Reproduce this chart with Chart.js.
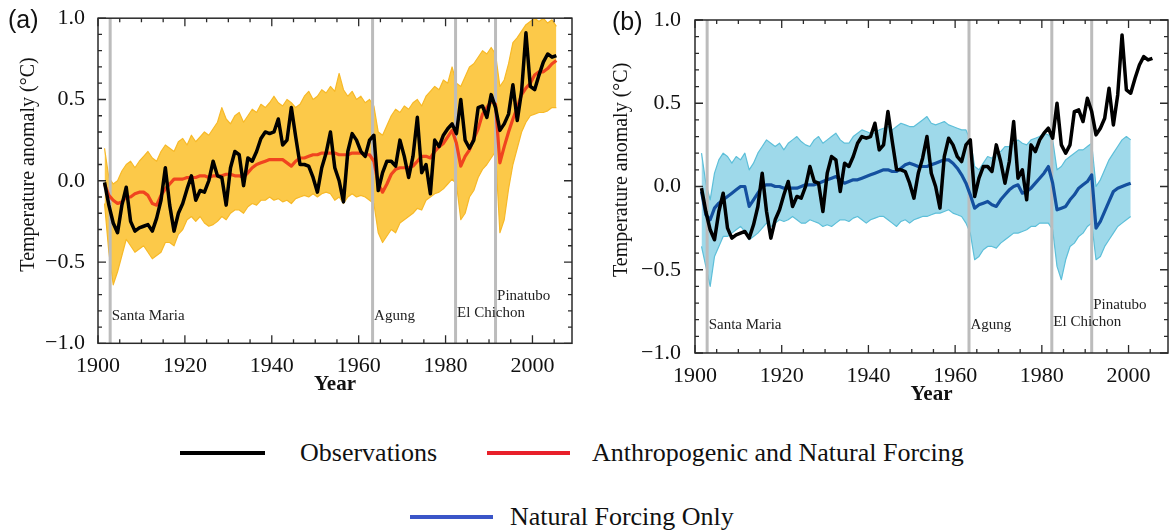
<!DOCTYPE html>
<html>
<head>
<meta charset="utf-8">
<script src="https://cdn.jsdelivr.net/npm/chart.js@4.4.1/dist/chart.umd.min.js"></script>
<style>
    html, body { margin: 0; padding: 0; background: #fff; }
    body { width: 1173px; height: 531px; position: relative; overflow: hidden; font-family: 'Liberation Serif', 'Times New Roman', serif; color: #111; }
    canvas { position: absolute; top: 0; }
    #chartA { left: 0; }
    #chartB { left: 597px; }
    .tag { position: absolute; font-family: 'Liberation Sans', Arial, sans-serif; font-size: 25px; line-height: 1; }
    #tagA { left: 8px; top: 7px; }
    #tagB { left: 612px; top: 9px; }
    .leg { position: absolute; font-size: 26px; line-height: 1; white-space: nowrap; }
    .sw { position: absolute; height: 4px; }
    #swObs { left: 180px; top: 451px; width: 85px; background: #000; }
    #lbObs { left: 300px; top: 440px; }
    #swAll { left: 487px; top: 451px; width: 83px; background: #e8202a; }
    #lbAll { left: 592px; top: 440px; }
    #swNat { left: 410px; top: 515px; width: 83px; background: #3a55c8; }
    #lbNat { left: 510px; top: 504px; }
</style>
</head>
<body>
<canvas id="chartA" width="600" height="400"></canvas>
<canvas id="chartB" width="576" height="410"></canvas>
<div class="tag" id="tagA">(a)</div>
<div class="tag" id="tagB">(b)</div>
<div class="sw" id="swObs"></div><div class="leg" id="lbObs">Observations</div>
<div class="sw" id="swAll"></div><div class="leg" id="lbAll">Anthropogenic and Natural Forcing</div>
<div class="sw" id="swNat"></div><div class="leg" id="lbNat">Natural Forcing Only</div>

<script>
// annual means, plotted at mid-year
const MID = 0.5;
const years = Array.from({length: 105}, (_, i) => 1901 + i);   // 1901-2005
const yearsNat = years.slice(0, 100);                           // natural runs stop in 2000

const xTicks = [1900, 1920, 1940, 1960, 1980, 2000];
const yTicks = [-1, -0.5, 0, 0.5, 1];

// observations (black, both panels)
const observed = [
    -0.01, -0.15, -0.26, -0.32, -0.15, -0.04, -0.25, -0.31, -0.29, -0.28,
    -0.27, -0.31, -0.23, -0.12, 0.08, -0.15, -0.31, -0.20, -0.14, -0.05,
    0.03, -0.12, -0.06, -0.07, 0.00, 0.12, 0.03, 0.02, -0.15, 0.08,
    0.18, 0.16, -0.03, 0.14, 0.12, 0.18, 0.26, 0.30, 0.29, 0.30,
    0.38, 0.22, 0.25, 0.45, 0.27, 0.10, 0.10, 0.09, 0.02, -0.07,
    0.08, 0.17, 0.30, 0.08, 0.00, -0.13, 0.18, 0.29, 0.25, 0.18,
    0.15, 0.25, 0.28, -0.06, 0.05, 0.12, 0.12, 0.09, 0.25, 0.15,
    0.02, 0.15, 0.39, 0.05, 0.10, -0.08, 0.25, 0.21, 0.28, 0.32,
    0.35, 0.29, 0.50, 0.25, 0.20, 0.25, 0.45, 0.46, 0.39, 0.53,
    0.45, 0.31, 0.35, 0.41, 0.59, 0.37, 0.55, 0.91, 0.58, 0.56,
    0.65, 0.73, 0.78, 0.76, 0.77
];

// (a) anthropogenic + natural: ensemble mean and spread of the runs
const allMean = [
    -0.02, -0.09, -0.12, -0.14, -0.13, -0.10, -0.10, -0.08, -0.07, -0.07,
    -0.09, -0.14, -0.15, -0.09, -0.05, -0.02, 0.01, 0.01, 0.01, 0.02,
    0.02, 0.02, 0.03, 0.03, 0.02, 0.03, 0.03, 0.03, 0.04, 0.04,
    0.03, 0.03, 0.02, 0.05, 0.08, 0.10, 0.11, 0.12, 0.13, 0.13,
    0.13, 0.13, 0.11, 0.09, 0.12, 0.14, 0.14, 0.15, 0.16, 0.16,
    0.17, 0.17, 0.17, 0.17, 0.16, 0.16, 0.16, 0.17, 0.17, 0.17,
    0.16, 0.16, 0.12, -0.02, -0.07, -0.02, 0.04, 0.07, 0.08, 0.08,
    0.08, 0.09, 0.12, 0.15, 0.15, 0.14, 0.18, 0.21, 0.23, 0.27,
    0.31, 0.23, 0.09, 0.15, 0.19, 0.26, 0.32, 0.41, 0.45, 0.49,
    0.47, 0.11, 0.21, 0.30, 0.38, 0.45, 0.53, 0.57, 0.60, 0.65,
    0.67, 0.67, 0.69, 0.72, 0.74
];
const allHigh = [
    0.20, 0.02, -0.02, 0.00, 0.06, 0.10, 0.12, 0.08, 0.12, 0.15,
    0.18, 0.14, 0.12, 0.18, 0.22, 0.20, 0.18, 0.24, 0.26, 0.22,
    0.28, 0.24, 0.27, 0.30, 0.28, 0.32, 0.36, 0.45, 0.38, 0.35,
    0.40, 0.42, 0.36, 0.40, 0.44, 0.42, 0.47, 0.45, 0.48, 0.52,
    0.48, 0.46, 0.50, 0.48, 0.45, 0.47, 0.52, 0.55, 0.50, 0.52,
    0.56, 0.54, 0.58, 0.55, 0.66, 0.56, 0.52, 0.55, 0.50, 0.52,
    0.48, 0.50, 0.46, 0.30, 0.28, 0.34, 0.40, 0.44, 0.42, 0.46,
    0.44, 0.48, 0.50, 0.46, 0.52, 0.55, 0.58, 0.56, 0.62, 0.60,
    0.70, 0.60, 0.58, 0.64, 0.70, 0.72, 0.76, 0.80, 0.78, 0.82,
    0.78, 0.58, 0.62, 0.72, 0.85, 0.88, 0.92, 0.96, 0.98, 1.00,
    0.98, 1.00, 0.97, 0.99, 0.95
];
const allLow = [
    -0.14, -0.44, -0.64, -0.56, -0.46, -0.36, -0.40, -0.44, -0.42, -0.40,
    -0.44, -0.48, -0.46, -0.44, -0.38, -0.38, -0.40, -0.33, -0.30, -0.24,
    -0.22, -0.25, -0.22, -0.26, -0.28, -0.27, -0.25, -0.22, -0.24, -0.20,
    -0.18, -0.18, -0.20, -0.16, -0.14, -0.15, -0.12, -0.12, -0.10, -0.12,
    -0.11, -0.13, -0.12, -0.14, -0.11, -0.10, -0.09, -0.10, -0.08, -0.10,
    -0.08, -0.07, -0.08, -0.12, -0.10, -0.14, -0.10, -0.08, -0.10, -0.09,
    -0.10, -0.12, -0.14, -0.32, -0.38, -0.34, -0.30, -0.32, -0.26, -0.24,
    -0.22, -0.20, -0.17, -0.18, -0.12, -0.10, -0.08, -0.07, -0.05, -0.02,
    0.01, -0.02, -0.24, -0.20, -0.10, -0.06, 0.02, 0.07, 0.10, 0.14,
    0.18, -0.32, -0.24, -0.05, 0.10, 0.20, 0.30, 0.36, 0.40, 0.41,
    0.42, 0.42, 0.43, 0.45, 0.45
];

// (b) natural forcing only: ensemble mean and spread of the runs
const natMean = [
    -0.03, -0.17, -0.20, -0.13, -0.10, -0.08, -0.06, -0.04, -0.02, 0.00,
    0.00, -0.12, -0.08, -0.04, 0.00, 0.01, 0.01, 0.00, 0.00, -0.01,
    -0.01, -0.01, -0.01, 0.00, 0.01, 0.01, 0.01, 0.02, 0.03, 0.04,
    0.05, 0.06, 0.04, 0.02, 0.03, 0.04, 0.04, 0.05, 0.06, 0.07,
    0.08, 0.09, 0.10, 0.10, 0.09, 0.09, 0.11, 0.13, 0.14, 0.13,
    0.12, 0.12, 0.12, 0.13, 0.14, 0.15, 0.16, 0.16, 0.14, 0.11,
    0.07, 0.02, -0.05, -0.13, -0.11, -0.10, -0.09, -0.11, -0.12, -0.08,
    -0.05, -0.02, 0.00, 0.01, -0.04, -0.03, -0.01, 0.02, 0.05, 0.08,
    0.12, 0.02, -0.14, -0.13, -0.12, -0.08, -0.05, -0.01, 0.01, 0.03,
    0.07, -0.25, -0.21, -0.15, -0.09, -0.03, -0.01, 0.00, 0.01, 0.02
];
const natHigh = [
    0.20, 0.02, -0.08, 0.08, 0.16, 0.20, 0.18, 0.14, 0.18, 0.16,
    0.20, 0.10, 0.14, 0.20, 0.24, 0.28, 0.26, 0.24, 0.26, 0.22,
    0.26, 0.28, 0.30, 0.27, 0.25, 0.24, 0.28, 0.30, 0.26, 0.28,
    0.30, 0.32, 0.28, 0.26, 0.26, 0.30, 0.32, 0.34, 0.33, 0.32,
    0.32, 0.34, 0.35, 0.36, 0.34, 0.36, 0.38, 0.37, 0.36, 0.36,
    0.38, 0.40, 0.42, 0.38, 0.37, 0.38, 0.39, 0.37, 0.36, 0.35,
    0.34, 0.34, 0.28, 0.12, 0.10, 0.14, 0.18, 0.17, 0.20, 0.21,
    0.24, 0.24, 0.26, 0.28, 0.26, 0.25, 0.28, 0.29, 0.30, 0.32,
    0.31, 0.28, 0.10, 0.12, 0.16, 0.18, 0.20, 0.22, 0.22, 0.24,
    0.26, 0.00, 0.04, 0.10, 0.16, 0.20, 0.24, 0.28, 0.30, 0.28
];
const natLow = [
    -0.36, -0.48, -0.60, -0.42, -0.36, -0.30, -0.30, -0.28, -0.26, -0.24,
    -0.27, -0.32, -0.30, -0.28, -0.25, -0.22, -0.24, -0.22, -0.20, -0.21,
    -0.20, -0.18, -0.20, -0.22, -0.22, -0.20, -0.21, -0.22, -0.24, -0.23,
    -0.24, -0.22, -0.20, -0.20, -0.21, -0.19, -0.18, -0.20, -0.22, -0.20,
    -0.19, -0.18, -0.18, -0.20, -0.22, -0.24, -0.21, -0.20, -0.22, -0.20,
    -0.19, -0.18, -0.18, -0.17, -0.16, -0.16, -0.15, -0.14, -0.16, -0.17,
    -0.18, -0.22, -0.28, -0.44, -0.42, -0.38, -0.36, -0.36, -0.37, -0.34,
    -0.32, -0.30, -0.28, -0.28, -0.27, -0.26, -0.24, -0.24, -0.22, -0.22,
    -0.22, -0.26, -0.48, -0.56, -0.44, -0.36, -0.34, -0.30, -0.28, -0.24,
    -0.22, -0.44, -0.42, -0.36, -0.32, -0.28, -0.24, -0.22, -0.20, -0.18
];

// volcanic eruptions
const volcanoYears = [1902.8, 1963.2, 1982.3, 1991.5];
const volcanoNames = ['Santa Maria', 'Agung', 'El Chichon', 'Pinatubo'];
const volcanoLabelY = [-0.83, -0.83, -0.815, -0.71];

const Y_TITLE = 'Temperature anomaly (°C)';

Chart.defaults.font.family = "'Liberation Serif', 'Times New Roman', serif";
Chart.defaults.color = '#111';

const pts = (vals, yrs) => vals.map((v, i) => ({x: yrs[i] + MID, y: v}));

// grey eruption lines go in right after the ensemble spread
const eruptionLines = {
    id: 'eruptionLines',
    beforeDatasetDraw(chart, args) {
        if (args.index !== 1) return;
        const {ctx, chartArea: a, scales: {x}} = chart;
        ctx.save();
        ctx.strokeStyle = '#bcbcbc';
        ctx.lineWidth = 3;
        volcanoYears.forEach(v => {
            const px = x.getPixelForValue(v);
            ctx.beginPath();
            ctx.moveTo(px, a.top);
            ctx.lineTo(px, a.bottom);
            ctx.stroke();
        });
        ctx.restore();
    },
    afterDraw(chart, args, opts) {
        const {ctx, chartArea: a, scales: {x, y}} = chart;
        ctx.save();
        // frame with inward ticks on every side
        ctx.strokeStyle = '#2a2a2a';
        ctx.lineWidth = 1.5;
        ctx.strokeRect(a.left, a.top, a.right - a.left, a.bottom - a.top);
        ctx.lineWidth = 1.3;
        ctx.beginPath();
        for (let yr = 1900; yr <= 2009; yr += 5) {
            const px = x.getPixelForValue(yr);
            const len = yr % 20 === 0 ? 8 : 4;
            ctx.moveTo(px, a.bottom); ctx.lineTo(px, a.bottom - len);
            ctx.moveTo(px, a.top); ctx.lineTo(px, a.top + len);
        }
        for (let k = -10; k <= 10; k++) {
            const py = y.getPixelForValue(k / 10);
            const len = k % 5 === 0 ? 8 : 4;
            ctx.moveTo(a.left, py); ctx.lineTo(a.left + len, py);
            ctx.moveTo(a.right, py); ctx.lineTo(a.right - len, py);
        }
        ctx.stroke();
        // eruption names
        ctx.fillStyle = '#222';
        ctx.font = "15px 'Liberation Serif', serif";
        ctx.textAlign = 'left';
        ctx.textBaseline = 'middle';
        volcanoNames.forEach((name, i) => {
            ctx.fillText(name, x.getPixelForValue(volcanoYears[i]) + 1.5, y.getPixelForValue(volcanoLabelY[i]));
        });
        // y-axis title, sitting a little above the middle of the axis
        ctx.fillStyle = '#111';
        ctx.font = "20px 'Liberation Serif', serif";
        ctx.textAlign = 'center';
        ctx.translate(opts.titleX, y.getPixelForValue(opts.titleMid));
        ctx.rotate(-Math.PI / 2);
        ctx.fillText(Y_TITLE, 0, 0);
        ctx.restore();
    }
};

function makePanel(id, o) {
    return new Chart(document.getElementById(id), {
        type: 'line',
        data: {
            datasets: [
                {data: pts(observed, years), borderColor: '#000', borderWidth: 3.5, order: 0},
                {data: pts(o.mean, o.years), borderColor: o.meanColor, borderWidth: 3.2, order: 1},
                {data: pts(o.high, o.years), borderColor: o.spreadLine, borderWidth: 1.2,
                    backgroundColor: o.spreadFill, fill: '+1', order: 3},
                {data: pts(o.low, o.years), borderColor: o.spreadLine, borderWidth: 1.2, order: 2}
            ]
        },
        options: {
            responsive: false,
            animation: false,
            events: [],
            layout: {padding: {left: 0, top: o.top, right: o.right, bottom: 0}},
            elements: {
                point: {radius: 0},
                line: {tension: 0, borderJoinStyle: 'round', fill: false}
            },
            plugins: {
                legend: {display: false},
                tooltip: {enabled: false},
                eruptionLines: {titleX: o.titleX, titleMid: o.titleMid}
            },
            scales: {
                x: {
                    type: 'linear',
                    min: 1900,
                    max: 2009.1,
                    afterFit: s => { s.height = o.axisH; },
                    afterBuildTicks: s => { s.ticks = xTicks.map(value => ({value})); },
                    grid: {display: false},
                    border: {display: false},
                    ticks: {font: {size: 22}, padding: 2, maxRotation: 0, callback: v => String(v)},
                    title: {display: true, text: 'Year', font: {size: 21, weight: 'bold'}, padding: {top: 0, bottom: 3}}
                },
                y: {
                    min: -1,
                    max: 1,
                    afterFit: s => { s.width = 98; },
                    afterBuildTicks: s => { s.ticks = yTicks.map(value => ({value})); },
                    grid: {display: false},
                    border: {display: false},
                    ticks: {font: {size: 22}, padding: o.tickPad, callback: v => v.toFixed(1).replace('-', '\u2212')}
                }
            }
        },
        plugins: [eruptionLines]
    });
}

makePanel('chartA', {
    years: years, mean: allMean, high: allHigh, low: allLow,
    meanColor: '#f0441f', spreadLine: '#f7b928', spreadFill: 'rgba(252,196,58,0.92)',
    top: 11.5, right: 28, axisH: 56.7, tickPad: 5, titleX: 29, titleMid: 0.1
});

makePanel('chartB', {
    years: yearsNat, mean: natMean, high: natHigh, low: natLow,
    meanColor: '#14509f', spreadLine: '#5dbfd9', spreadFill: 'rgba(120,202,226,0.72)',
    top: 20, right: 5, axisH: 57, tickPad: 6, titleX: 25, titleMid: 0.1
});
</script>
</body>
</html>
